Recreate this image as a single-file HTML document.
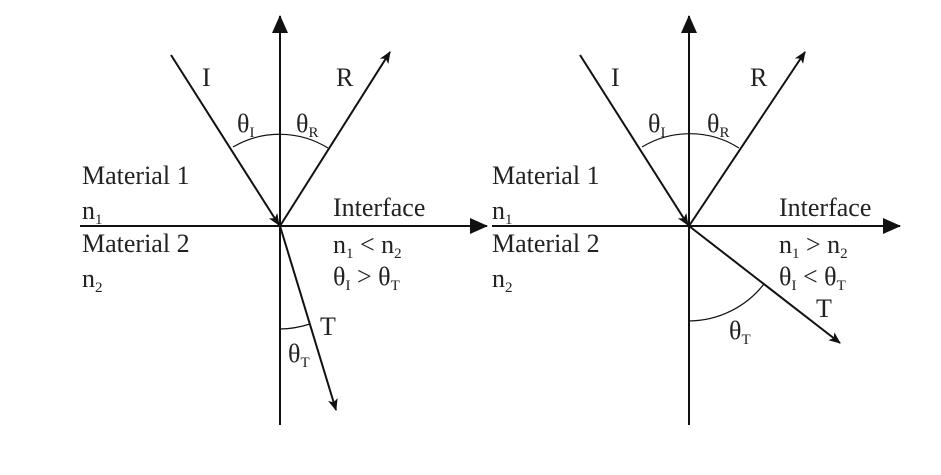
<!DOCTYPE html>
<html><head><style>body{margin:0;background:#fff}</style></head><body>
<svg width="941" height="470" xmlns="http://www.w3.org/2000/svg" font-family="Liberation Serif, serif" font-size="26" fill="#222">
<defs>
<marker id="s" markerWidth="12" markerHeight="10" refX="11" refY="5" orient="auto" markerUnits="userSpaceOnUse"><path d="M0,0 L12,5 L0,10 L3,5 Z" fill="#111"/></marker>
<marker id="b" markerWidth="18" markerHeight="16" refX="17" refY="8" orient="auto" markerUnits="userSpaceOnUse"><path d="M0,0 L18,8 L0,16 Z" fill="#111"/></marker>
</defs>
<g stroke="#111" stroke-width="2" fill="none">
<line x1="280" y1="425" x2="280" y2="16" marker-end="url(#b)"/>
<line x1="80" y1="226" x2="487" y2="226" marker-end="url(#b)"/>
<line x1="171" y1="55" x2="279" y2="225" marker-end="url(#s)"/>
<line x1="280" y1="226" x2="390" y2="52" marker-end="url(#s)"/>
<line x1="280" y1="226" x2="336" y2="410" marker-end="url(#s)"/>
<path d="M233,147 A92,92 0 0 1 328,148" stroke-width="1.2"/>
<path d="M280,329 A103,103 0 0 0 310,324" stroke-width="1.2"/>
<line x1="689" y1="425" x2="689" y2="16" marker-end="url(#b)"/>
<line x1="492" y1="226" x2="900" y2="226" marker-end="url(#b)"/>
<line x1="580" y1="55" x2="688" y2="225" marker-end="url(#s)"/>
<line x1="689" y1="226" x2="805" y2="52" marker-end="url(#s)"/>
<line x1="689" y1="226" x2="840" y2="343" marker-end="url(#s)"/>
<path d="M642,147 A92,92 0 0 1 739,148" stroke-width="1.2"/>
<path d="M689,321 A96,96 0 0 0 764,284" stroke-width="1.2"/>
</g>
<text x="202" y="86">I</text>
<text x="336" y="86">R</text>
<text x="237" y="132">θ<tspan font-size="15" dy="5">I</tspan></text>
<text x="296" y="132">θ<tspan font-size="15" dy="5">R</tspan></text>
<text x="82" y="184">Material 1</text>
<text x="82" y="219">n<tspan font-size="15" dy="5">1</tspan></text>
<text x="82" y="252">Material 2</text>
<text x="82" y="287">n<tspan font-size="15" dy="5">2</tspan></text>
<text x="333" y="216">Interface</text>
<text x="333" y="253">n<tspan font-size="15" dy="5">1</tspan><tspan dy="-5"> &lt; n</tspan><tspan font-size="15" dy="5">2</tspan></text>
<text x="333" y="285">θ<tspan font-size="15" dy="5">I</tspan><tspan dy="-5"> &gt; θ</tspan><tspan font-size="15" dy="5">T</tspan></text>
<text x="320" y="335">T</text>
<text x="288" y="362">θ<tspan font-size="15" dy="5">T</tspan></text>
<text x="611" y="86">I</text>
<text x="750" y="86">R</text>
<text x="648" y="132">θ<tspan font-size="15" dy="5">I</tspan></text>
<text x="707" y="132">θ<tspan font-size="15" dy="5">R</tspan></text>
<text x="492" y="184">Material 1</text>
<text x="492" y="219">n<tspan font-size="15" dy="5">1</tspan></text>
<text x="492" y="252">Material 2</text>
<text x="492" y="287">n<tspan font-size="15" dy="5">2</tspan></text>
<text x="779" y="216">Interface</text>
<text x="779" y="253">n<tspan font-size="15" dy="5">1</tspan><tspan dy="-5"> &gt; n</tspan><tspan font-size="15" dy="5">2</tspan></text>
<text x="779" y="285">θ<tspan font-size="15" dy="5">I</tspan><tspan dy="-5"> &lt; θ</tspan><tspan font-size="15" dy="5">T</tspan></text>
<text x="816" y="317">T</text>
<text x="729" y="339">θ<tspan font-size="15" dy="5">T</tspan></text>
</svg>
</body></html>
